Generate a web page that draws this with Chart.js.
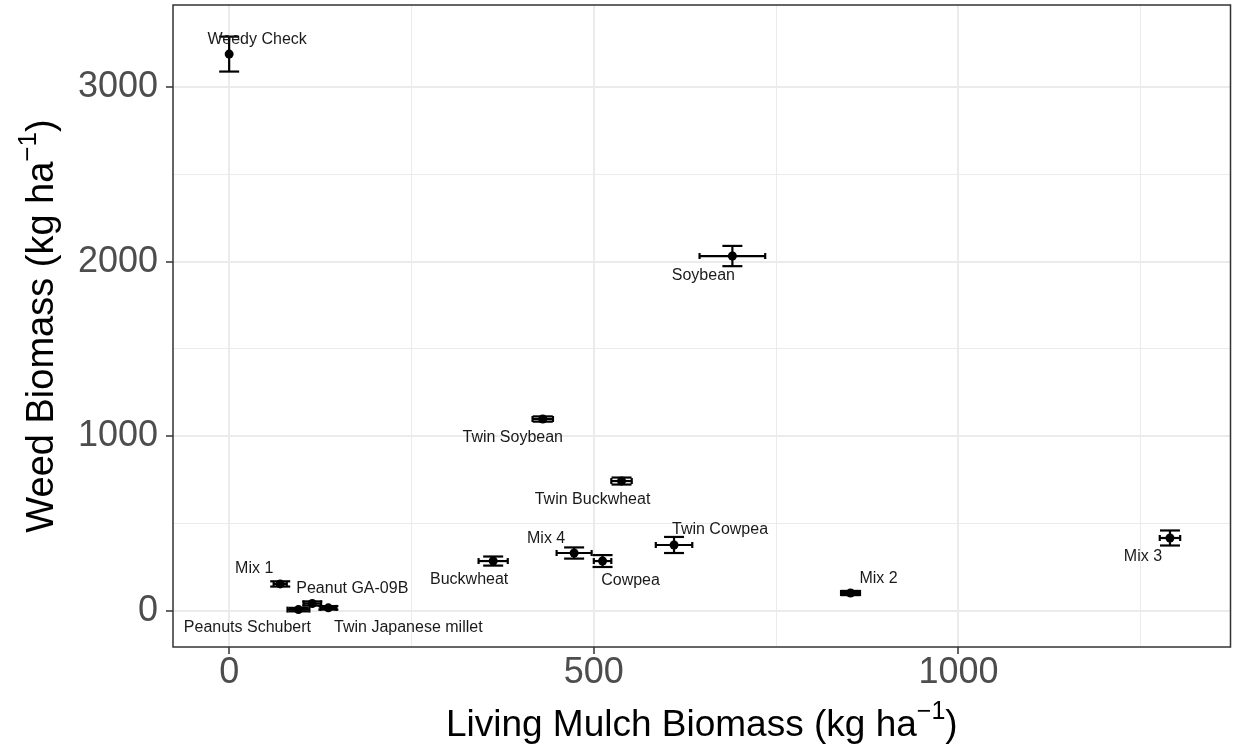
<!DOCTYPE html>
<html>
<head>
<meta charset="utf-8">
<script src="https://cdn.jsdelivr.net/npm/chart.js@4.4.1/dist/chart.umd.min.js"></script>
<style>
    html, body { margin: 0; padding: 0; background: #fff; }
</style>
</head>
<body>
<canvas id="myChart-weed-mulch" width="1235" height="750"></canvas>
<script>
// values
const treatments = ['Weedy Check', 'Soybean', 'Twin Soybean', 'Twin Buckwheat', 'Buckwheat', 'Mix 4', 'Cowpea',
    'Twin Cowpea', 'Mix 2', 'Mix 3', 'Mix 1', 'Peanut GA-09B', 'Peanuts Schubert', 'Twin Japanese millet'];
const mulchBiomass = [0, 690, 430, 538, 362, 473, 512, 610, 852, 1290, 70, 114, 95, 136];
const mulchSe = [0, 45, 14, 14, 20, 24, 12, 25, 13, 14, 9, 12, 15, 11];
const weedBiomass = [3188, 2032, 1099, 744, 286, 332, 286, 378, 103, 418, 155, 43, 8, 18];
const weedSe = [100, 58, 15, 20, 26, 32, 34, 46, 12, 43, 15, 12, 10, 10];
const xTicks = [0, 500, 1000];
const xMinor = [250, 750, 1250];
const yTicks = [0, 1000, 2000, 3000];
const yMinor = [500, 1500, 2500];

// where each label sits relative to its point (px), like ggrepel put them
const labelOffsets = [[28, -14], [-29, 20], [-30, 19], [-29, 19], [-24, 19], [-28, -14], [28, 20],
    [46, -15], [28, -14], [-27, 19], [-26, -15], [40, -15], [-51, 18], [80, 20]];

const FONT = '"Liberation Sans", Arial, sans-serif';

const errorBars = {
    id: 'errorBars',
    afterDatasetsDraw(chart) {
        const { ctx, scales: { x, y } } = chart;
        ctx.save();
        ctx.strokeStyle = '#000';
        ctx.lineWidth = 2.2;
        const line = (x1, y1, x2, y2) => {
            ctx.beginPath();
            ctx.moveTo(x1, y1);
            ctx.lineTo(x2, y2);
            ctx.stroke();
        };
        mulchBiomass.forEach((mx, i) => {
            const px = x.getPixelForValue(mx);
            const py = y.getPixelForValue(weedBiomass[i]);
            const yTop = y.getPixelForValue(weedBiomass[i] + weedSe[i]);
            const yBot = y.getPixelForValue(weedBiomass[i] - weedSe[i]);
            line(px, yTop, px, yBot);
            line(px - 10, yTop, px + 10, yTop);
            line(px - 10, yBot, px + 10, yBot);
            if (mulchSe[i] > 0) {
                const xL = x.getPixelForValue(mx - mulchSe[i]);
                const xR = x.getPixelForValue(mx + mulchSe[i]);
                line(xL, py, xR, py);
                line(xL, py - 3, xL, py + 3);
                line(xR, py - 3, xR, py + 3);
            }
        });

        ctx.fillStyle = '#1a1a1a';
        ctx.font = `16px ${FONT}`;
        ctx.textAlign = 'center';
        ctx.textBaseline = 'middle';
        treatments.forEach((name, i) => {
            const px = x.getPixelForValue(mulchBiomass[i]);
            const py = y.getPixelForValue(weedBiomass[i]);
            ctx.fillText(name, px + labelOffsets[i][0], py + labelOffsets[i][1]);
        });
        ctx.restore();
    }
};

const drawTitle = (ctx, main, cx, baseY, big) => {
    const small = Math.round(big * 0.68);
    ctx.font = `${big}px ${FONT}`;
    const w1 = ctx.measureText(main).width;
    const w3 = ctx.measureText(')').width;
    ctx.font = `${small}px ${FONT}`;
    const w2 = ctx.measureText('\u22121').width;
    const start = cx - (w1 + w2 + w3) / 2;
    ctx.textAlign = 'left';
    ctx.textBaseline = 'alphabetic';
    ctx.fillText('\u22121', start + w1, baseY - big * 0.45);
    ctx.font = `${big}px ${FONT}`;
    ctx.fillText(main, start, baseY);
    ctx.fillText(')', start + w1 + w2, baseY);
};

const panelAndTitles = {
    id: 'panelAndTitles',
    afterDraw(chart) {
        const { ctx, chartArea: a } = chart;
        ctx.save();
        ctx.strokeStyle = '#333333';
        ctx.lineWidth = 1.5;
        ctx.strokeRect(a.left, a.top, a.right - a.left, a.bottom - a.top);

        ctx.fillStyle = '#000';
        drawTitle(ctx, 'Living Mulch Biomass (kg ha', (a.left + a.right) / 2, 736, 37);
        ctx.translate(53, (a.top + a.bottom) / 2);
        ctx.rotate(-Math.PI / 2);
        drawTitle(ctx, 'Weed Biomass (kg ha', 0, 0, 38);
        ctx.restore();
    }
};

const buildChart = () => {
    const chartData = {
        datasets: [{
            label: 'Weed vs mulch',
            data: mulchBiomass.map((mx, i) => ({ x: mx, y: weedBiomass[i] })),
            backgroundColor: '#000',
            borderWidth: 0,
            pointRadius: 4.5
        }]
    };

    const config = {
        type: 'scatter',
        data: chartData,
        options: {
            responsive: false,
            animation: false,
            layout: { padding: { top: 5, right: 4, left: 0, bottom: 0 } },
            plugins: {
                legend: { display: false },
                tooltip: { enabled: false }
            },
            scales: {
                x: {
                    type: 'linear',
                    min: -77,
                    max: 1373,
                    afterBuildTicks: (scale) => {
                        scale.ticks = xTicks.concat(xMinor).sort((a, b) => a - b).map(v => ({ value: v }));
                    },
                    afterFit: (scale) => {
                        scale.height = 103;
                        scale.paddingLeft = 0;
                        scale.paddingRight = 0;
                    },
                    border: { display: false },
                    grid: {
                        color: '#EBEBEB',
                        lineWidth: (c) => xTicks.includes(c.tick.value) ? 2 : 1,
                        tickColor: (c) => xTicks.includes(c.tick.value) ? '#333333' : 'rgba(0,0,0,0)',
                        tickWidth: 1.5,
                        tickLength: 7
                    },
                    ticks: {
                        autoSkip: false,
                        maxRotation: 0,
                        padding: -3,
                        color: '#4D4D4D',
                        font: { family: FONT, size: 36 },
                        callback: (v) => xTicks.includes(v) ? String(v) : ''
                    }
                },
                y: {
                    type: 'linear',
                    min: -206,
                    max: 3469,
                    afterBuildTicks: (scale) => {
                        scale.ticks = yTicks.concat(yMinor).sort((a, b) => a - b).map(v => ({ value: v }));
                    },
                    afterFit: (scale) => {
                        scale.width = 173;
                        scale.paddingTop = 0;
                        scale.paddingBottom = 0;
                    },
                    border: { display: false },
                    grid: {
                        color: '#EBEBEB',
                        lineWidth: (c) => yTicks.includes(c.tick.value) ? 2 : 1,
                        tickColor: (c) => yTicks.includes(c.tick.value) ? '#333333' : 'rgba(0,0,0,0)',
                        tickWidth: 1.5,
                        tickLength: 7
                    },
                    ticks: {
                        autoSkip: false,
                        padding: 8,
                        color: '#4D4D4D',
                        font: { family: FONT, size: 36 },
                        callback: (v) => yTicks.includes(v) ? String(v) : ''
                    }
                }
            }
        },
        plugins: [errorBars, panelAndTitles]
    };

    const ctx = document.getElementById('myChart-weed-mulch').getContext('2d');
    new Chart(ctx, config);
};

document.addEventListener('DOMContentLoaded', () => {
    buildChart();
});
</script>
</body>
</html>
